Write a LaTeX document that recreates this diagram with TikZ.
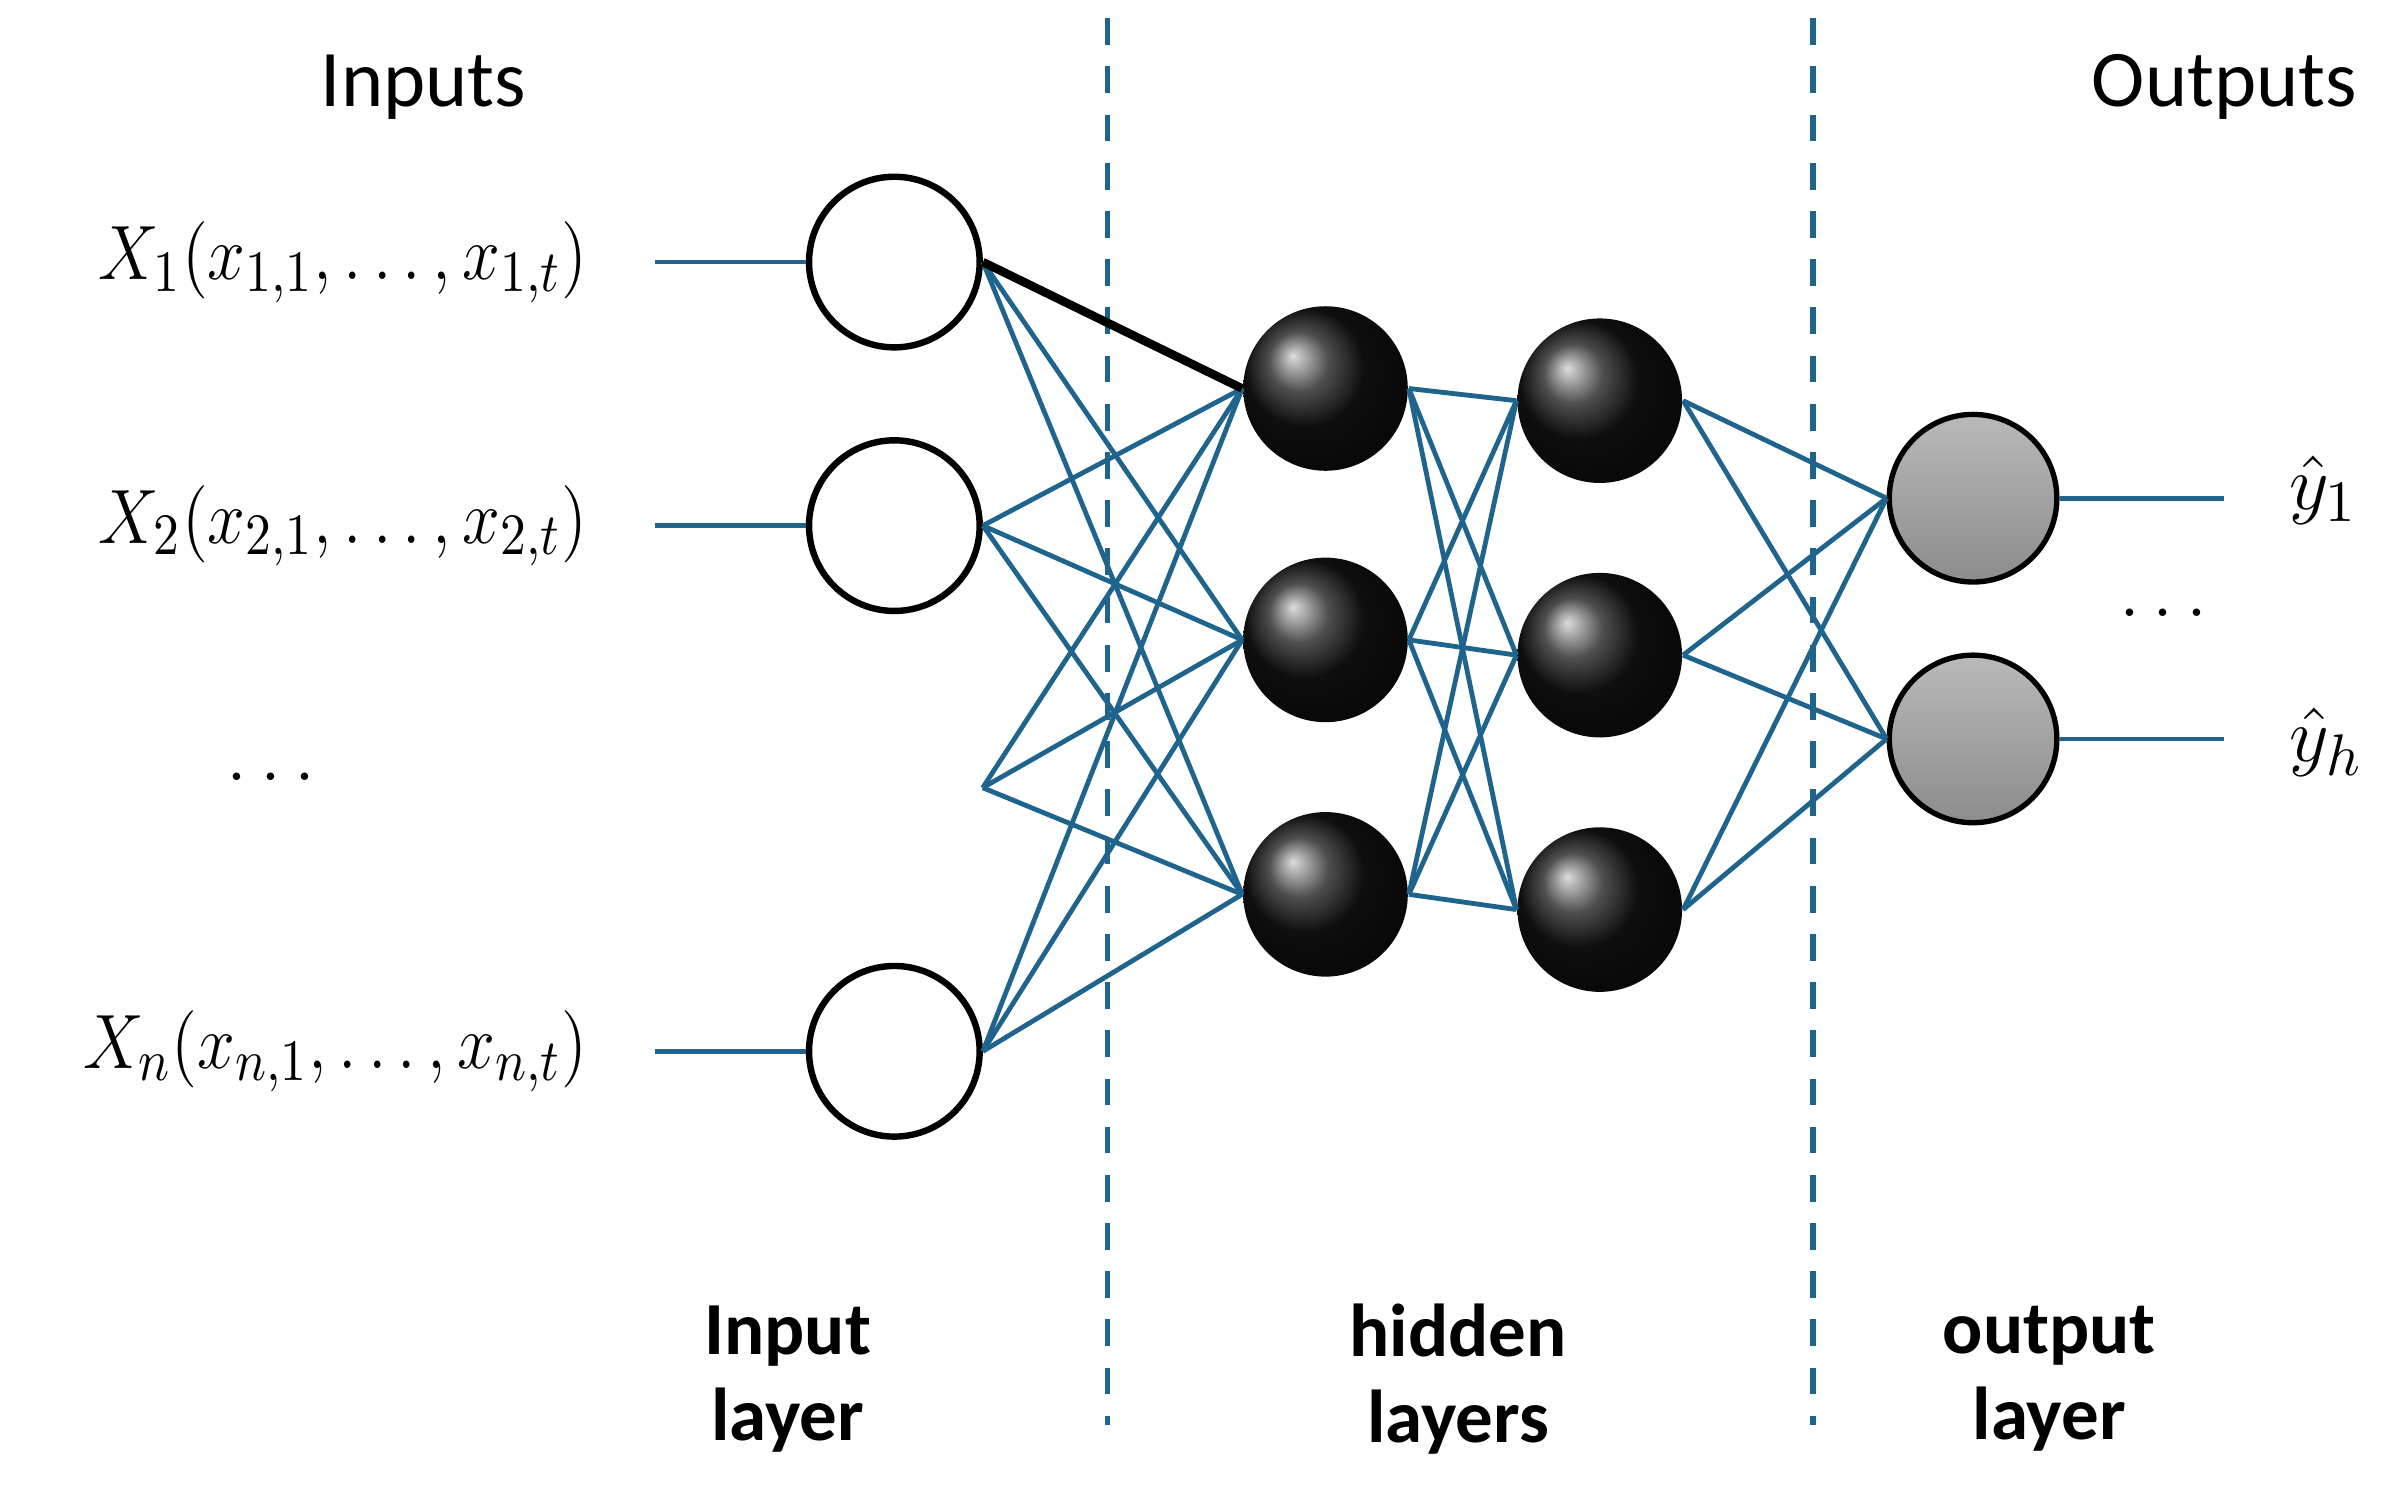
\documentclass[tikz,border=0pt]{standalone}
\usepackage{fontspec}
\setmainfont{Carlito}
\usepackage{amsmath}
\usepackage{graphicx}
\usepackage{tikz}
\usetikzlibrary{arrows.meta}
\definecolor{netblue}{RGB}{30,100,140}
\newcommand{\xlab}[1]{\scalebox{0.88}[1]{#1}}
\tikzset{
  inp/.style={draw, circle, line width=1.2, minimum size=1.12cm, fill=white},
  hid/.style={circle, minimum size=1.08cm, shading=ball, ball color=black!92},
  outn/.style={draw, circle, line width=1, minimum size=1.1cm, top color=gray!55, bottom color=gray!90},
  edge/.style={netblue, line width=0.9},
  lbl/.style={font=\fontsize{15}{18}\selectfont},
  layercap/.style={font=\fontsize{14}{16}\selectfont\bfseries, align=center},
}
\begin{document}
\begin{tikzpicture}[x=0.1mm, y=-0.1mm]
\useasboundingbox (0,0) rectangle (1568,975);

% dashed separators
\draw[netblue, line width=1, dash pattern=on 5pt off 4pt] (727,12) -- (727,935);
\draw[netblue, line width=1, dash pattern=on 5pt off 4pt] (1190,12) -- (1190,935);

% input layer
\node[inp] (i1) at (587,172) {};
\node[inp] (i2) at (587,345) {};
\node[inp] (i3) at (587,690) {};
\coordinate (idots) at (645,517);

% hidden layers
\node[hid] (a1) at (870,255) {};
\node[hid] (a2) at (870,420) {};
\node[hid] (a3) at (870,587) {};
\node[hid] (b1) at (1050,263) {};
\node[hid] (b2) at (1050,430) {};
\node[hid] (b3) at (1050,597) {};

% output layer
\node[outn] (o1) at (1295,327) {};
\node[outn] (o2) at (1295,485) {};

% inputs and outputs
\coordinate (x1) at (430,172);
\coordinate (x2) at (430,345);
\coordinate (x3) at (430,690);
\coordinate (y1) at (1460,327);
\coordinate (y2) at (1460,485);
\draw[edge] (x1) -- (i1);
\draw[edge] (x2) -- (i2);
\draw[edge] (x3) -- (i3);
\draw[edge] (o1) -- (y1);
\draw[edge] (o2) -- (y2);

% connections
\foreach \a in {a1,a2,a3}{
  \foreach \i in {i2,i3} \draw[edge] (\i.east) -- (\a.west);
  \draw[edge] (idots) -- (\a.west);
}
\draw[edge] (i1.east) -- (a2.west);
\draw[edge] (i1.east) -- (a3.west);
\draw[line width=1.6] (i1.east) -- (a1.west);
\foreach \a in {a1,a2,a3}
  \foreach \b in {b1,b2,b3} \draw[edge] (\a.east) -- (\b.west);
\foreach \b in {b1,b2,b3}
  \foreach \o in {o1,o2} \draw[edge] (\b.east) -- (\o.west);

% labels
\node[font=\fontsize{15}{17}\selectfont] (tin) at (278,57) {Inputs};
\node[font=\fontsize{15}{17}\selectfont] (tout) at (1460,57) {Outputs};
\node[lbl, anchor=east] (l1) at (398,172) {\xlab{$X_1(x_{1,1},\ldots,x_{1,t})$}};
\node[lbl, anchor=east] (l2) at (398,345) {\xlab{$X_2(x_{2,1},\ldots,x_{2,t})$}};
\node[lbl, anchor=east] (l3) at (398,690) {\xlab{$X_n(x_{n,1},\ldots,x_{n,t})$}};
\node[lbl] (ld) at (178,510) {$\ldots$};
\node[lbl] (ly1) at (1525,322) {$\hat{y}_1$};
\node[lbl] (ly2) at (1527,487) {$\hat{y}_h$};
\node[lbl] (lyd) at (1420,402) {$\ldots$};
\node[layercap] (c1) at (517,905) {Input\\layer};
\node[layercap] (c2) at (957,905) {hidden\\layers};
\node[layercap] (c3) at (1345,905) {output\\layer};
\end{tikzpicture}
\end{document}
